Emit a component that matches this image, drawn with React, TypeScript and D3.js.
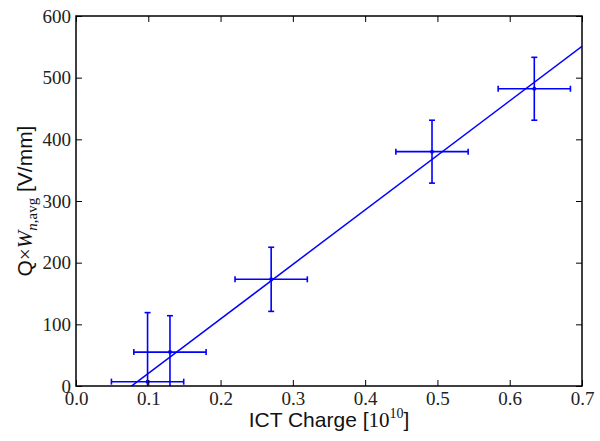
import * as d3 from 'd3';
import React, { useRef, useEffect } from 'react';

// measured points
const charge = [0.099, 0.13, 0.27, 0.4925, 0.634];
const chargeErr = [0.05, 0.05, 0.05, 0.05, 0.05];
const field = [7, 55, 173, 380, 482];
const fieldErr = [112, 59, 52, 51, 51];

// linear fit
const fitSlope = 884;
const fitIntercept = -68;

const xTicks = [0, 0.1, 0.2, 0.3, 0.4, 0.5, 0.6, 0.7];
const yTicks = [0, 100, 200, 300, 400, 500, 600];

function ErrorPlot({ width, height }: { width: number; height: number }) {
    const ref = useRef<SVGSVGElement>(null);

    useEffect(() => {
        draw();
    }, []);

    const draw = () => {
        const svg = d3.select(ref.current);
        svg.selectAll("*").remove();

        const m = { left: 76, right: 18, top: 16, bottom: 55 };
        const w = width - m.left - m.right;
        const h = height - m.top - m.bottom;
        const blue = "#0000ff";

        const x = d3.scaleLinear().domain([0, 0.7]).range([0, w]);
        const y = d3.scaleLinear().domain([0, 600]).range([h, 0]);

        svg.append("defs").append("clipPath").attr("id", "plotclip")
            .append("rect").attr("width", w).attr("height", h);

        const g = svg.append("g").attr("transform", `translate(${m.left},${m.top})`);

        const data = charge.map((c, i) => ({ x: c, xe: chargeErr[i], y: field[i], ye: fieldErr[i] }));

        const plot = g.append("g").attr("clip-path", "url(#plotclip)");

        // fit line
        const line = d3.line<number>()
            .x(d => x(d))
            .y(d => y(fitSlope * d + fitIntercept));
        plot.append("path")
            .datum([0, 0.7])
            .attr("d", line)
            .attr("fill", "none")
            .attr("stroke", blue)
            .attr("stroke-width", 1.5);

        const cap = 3;
        const pts = plot.selectAll("g.pt").data(data).join("g").attr("class", "pt");
        pts.append("line")
            .attr("x1", d => x(d.x - d.xe)).attr("x2", d => x(d.x + d.xe))
            .attr("y1", d => y(d.y)).attr("y2", d => y(d.y))
            .attr("stroke", blue).attr("stroke-width", 1.6);
        pts.append("line")
            .attr("x1", d => x(d.x)).attr("x2", d => x(d.x))
            .attr("y1", d => y(d.y - d.ye)).attr("y2", d => y(d.y + d.ye))
            .attr("stroke", blue).attr("stroke-width", 1.6);
        // caps
        pts.each(function (d) {
            const s = d3.select(this);
            [d.x - d.xe, d.x + d.xe].forEach(v => {
                s.append("line")
                    .attr("x1", x(v)).attr("x2", x(v))
                    .attr("y1", y(d.y) - cap).attr("y2", y(d.y) + cap)
                    .attr("stroke", blue).attr("stroke-width", 1.6);
            });
            [d.y - d.ye, d.y + d.ye].forEach(v => {
                s.append("line")
                    .attr("x1", x(d.x) - cap).attr("x2", x(d.x) + cap)
                    .attr("y1", y(v)).attr("y2", y(v))
                    .attr("stroke", blue).attr("stroke-width", 1.6);
            });
        });
        pts.append("circle")
            .attr("cx", d => x(d.x)).attr("cy", d => y(d.y))
            .attr("r", 2).attr("fill", blue);

        // axes with inward ticks on all sides
        const tickFont = "Liberation Serif, DejaVu Serif, serif";
        const styleAxis = (sel: any) => {
            sel.select(".domain").remove();
            sel.attr("font-family", tickFont).attr("font-size", 19);
            sel.selectAll(".tick line").attr("stroke", "#000").attr("stroke-width", 1);
            sel.selectAll(".tick text").attr("fill", "#222");
        };

        g.append("g").attr("transform", `translate(0,${h})`)
            .call(d3.axisBottom(x).tickValues(xTicks).tickFormat(d3.format(".1f")).tickSizeInner(-6).tickSizeOuter(0).tickPadding(6))
            .call(styleAxis);
        g.append("g")
            .call(d3.axisTop(x).tickValues(xTicks).tickFormat(() => "").tickSizeInner(-6).tickSizeOuter(0))
            .call(styleAxis);
        g.append("g")
            .call(d3.axisLeft(y).tickValues(yTicks).tickSizeInner(-6).tickSizeOuter(0).tickPadding(5))
            .call(styleAxis);
        g.append("g").attr("transform", `translate(${w},0)`)
            .call(d3.axisRight(y).tickValues(yTicks).tickFormat(() => "").tickSizeInner(-6).tickSizeOuter(0))
            .call(styleAxis);

        g.append("rect")
            .attr("width", w).attr("height", h)
            .attr("fill", "none").attr("stroke", "#000").attr("stroke-width", 1.5);

        // x label
        const xl = svg.append("text")
            .attr("x", m.left + w / 2).attr("y", 427)
            .attr("text-anchor", "middle")
            .attr("font-family", "Liberation Sans, Arial, sans-serif")
            .attr("font-size", 21)
            .attr("fill", "#111");
        xl.append("tspan").text("ICT Charge [");
        xl.append("tspan").attr("font-family", tickFont).text("10");
        xl.append("tspan").attr("font-family", tickFont).attr("font-size", 14).attr("dy", -9).text("10");
        xl.append("tspan").attr("dy", 9).text("]");

        // y label
        const yl = svg.append("text")
            .attr("transform", `translate(32,${m.top + h / 2}) rotate(-90)`)
            .attr("text-anchor", "middle")
            .attr("font-family", "Liberation Sans, Arial, sans-serif")
            .attr("font-size", 21)
            .attr("fill", "#111");
        yl.append("tspan").text("Q");
        yl.append("tspan").attr("font-family", tickFont).text("×");
        yl.append("tspan").attr("font-family", tickFont).attr("font-style", "italic").text("W");
        yl.append("tspan").attr("font-family", tickFont).attr("font-style", "italic")
            .attr("font-size", 15).attr("dy", 5).text("n");
        yl.append("tspan").attr("font-family", tickFont)
            .attr("font-size", 15).text(",avg");
        yl.append("tspan").attr("dy", -5).text(" [V/mm]");
    };

    return (
        <svg ref={ref} width={width} height={height} style={{ display: "block" }}>
        </svg>
    );
}

export default function App() {
    return (
        <div style={{ position: "absolute", left: 0, top: 0 }}>
            <ErrorPlot width={600} height={441} />
        </div>
    );
}
